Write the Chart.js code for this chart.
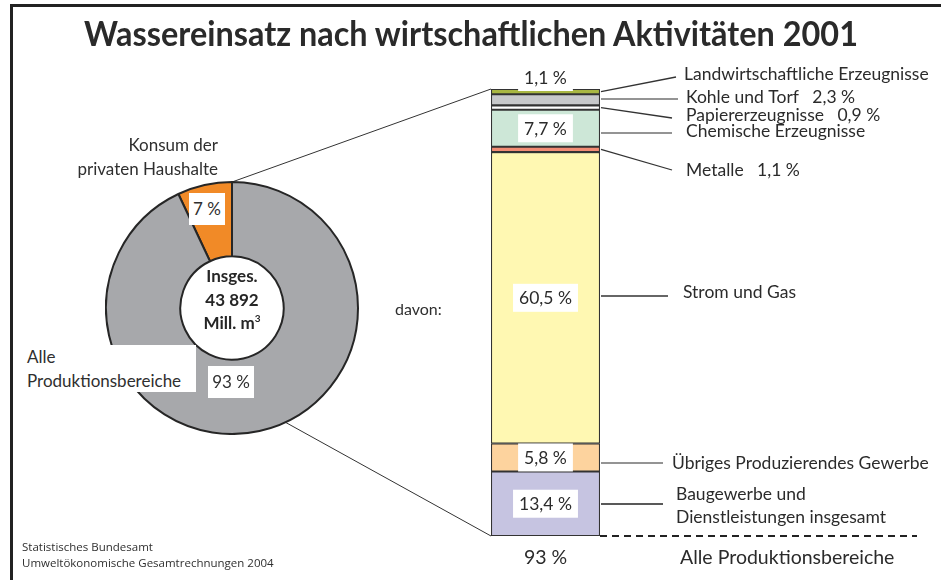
<!DOCTYPE html>
<html lang="de">
<head>
<meta charset="utf-8">
<title>Wassereinsatz nach wirtschaftlichen Aktivitäten 2001</title>
<script src="https://cdn.jsdelivr.net/npm/chart.js@4.4.1/dist/chart.umd.min.js"></script>
<style>
    html, body { margin: 0; padding: 0; background: #fff; }
    #page {
        position: relative;
        width: 941px;
        height: 580px;
        overflow: hidden;
        font-family: Lato, "Noto Sans", sans-serif;
        color: #2f2f2f;
    }
    #frame {
        position: absolute;
        left: 10px; top: 4px;
        width: 960px; height: 600px;
        border-left: 3px solid #222;
        border-top: 3px solid #222;
    }
    canvas { position: absolute; }
    #barChart { left: 0; top: 0; }
    #pieChart { left: 105px; top: 181px; }
    .txt { position: absolute; white-space: nowrap; font-size: 17px; }
    #title {
        left: 0; top: 12px; width: 941px; text-align: center;
        font-size: 34px; font-weight: 700; color: #2a2a2a;
    }
    #title span { display: inline-block; transform-origin: center; }
    .box { background: #fff; text-align: center; }
    #konsum { right: 723px; top: 133px; text-align: right; line-height: 24px; }
    #konsumPct { left: 189px; top: 193px; width: 36px; height: 32px; line-height: 32px; }
    #allePct { left: 208px; top: 366px; width: 46px; height: 32px; line-height: 32px; }
    #alle { left: 20px; top: 345px; width: 169px; height: 47px; padding-left: 7px;
            background: #fff; line-height: 24px; }
    #total { left: 172px; top: 264px; width: 120px; text-align: center;
             font-weight: 700; line-height: 23.5px; color: #262626; }
    #total sup { font-size: 10px; vertical-align: 7px; line-height: 0; }
    #davon { left: 395px; top: 299px; font-size: 16px; }
    #source { left: 22px; top: 539px; font-size: 11.5px; line-height: 16px;
              font-family: "Open Sans", sans-serif; }
</style>
</head>
<body>
<div id="page">
    <div id="frame"></div>
    <canvas id="barChart" width="941" height="580"></canvas>
    <canvas id="pieChart" width="254" height="254"></canvas>
    <div class="txt" id="title"><span>Wassereinsatz nach wirtschaftlichen Aktivitäten 2001</span></div>
    <div class="txt" id="konsum"></div>
    <div class="txt box" id="konsumPct"></div>
    <div class="txt" id="alle"></div>
    <div class="txt box" id="allePct"></div>
    <div class="txt" id="total"></div>
    <div class="txt" id="davon">davon:</div>
    <div class="txt" id="source">Statistisches Bundesamt<br>Umweltökonomische Gesamtrechnungen 2004</div>
</div>
<script>
// left ring: share of total water use
const pieLabels = ['Konsum der\nprivaten Haushalte', 'Alle\nProduktionsbereiche'];
const pieShares = [7, 93];
const pieColors = ['#f18a27', '#a7a8ab'];
const totalVolume = '43 892';

// right bar: split of "Alle Produktionsbereiche", top to bottom
const categories = [
    'Landwirtschaftliche Erzeugnisse',
    'Kohle und Torf',
    'Papiererzeugnisse',
    'Chemische Erzeugnisse',
    'Metalle',
    'Strom und Gas',
    'Übriges Produzierendes Gewerbe',
    'Baugewerbe und\nDienstleistungen insgesamt'
];
const shares = [1.1, 2.3, 0.9, 7.7, 1.1, 60.5, 5.8, 13.4];
const barColors = ['#a9b742', '#c7c8ca', '#ffffff', '#cde7d7', '#f28c74', '#fff8b2', '#fdd39e', '#c6c4e1'];
// where the share is printed: above the bar, inside it, or after the name
const valuePlace = ['above', 'name', 'name', 'inside', 'name', 'inside', 'inside', 'inside'];

// callout geometry (leader end point and text anchor) for each category
const callouts = [
    { end: [676, 77],  text: [684, 74] },
    { end: [678, 99],  text: [686, 97] },
    { end: [672, 118], text: [686, 115] },
    { end: [672, 133], text: [686, 131] },
    { end: [672, 170], text: [686, 170] },
    { end: [668, 296], text: [683, 292] },
    { end: [663, 463], text: [672, 463] },
    { end: [663, 504], text: [676, 494] }
];
const leaderColors = ['#333', '#707070', '#333', '#707070', '#333', '#333', '#707070', '#222'];

const fmt = v => v.toLocaleString('de-DE', { minimumFractionDigits: 1, maximumFractionDigits: 1 }) + ' %';
const TEXT = '#2b2b2b';
const FONT = '17.5px Lato';

function buildPie() {
    const rotation = -pieShares[0] * 3.6; // small slice ends exactly at 12 o'clock
    return new Chart(document.getElementById('pieChart'), {
        type: 'doughnut',
        data: {
            labels: pieLabels,
            datasets: [{
                data: pieShares,
                backgroundColor: pieColors,
                borderColor: '#262626',
                borderWidth: 2,
                borderAlign: 'center'
            }]
        },
        options: {
            responsive: false,
            animation: false,
            rotation: rotation,
            cutout: '41%',
            layout: { padding: 0 },
            plugins: { legend: { display: false }, tooltip: { enabled: false } }
        }
    });
}

function buildBar(pie) {
    const canvasPie = document.getElementById('pieChart');

    const calloutPlugin = {
        id: 'callouts',
        beforeDatasetsDraw(chart) {
            // zoom lines from the ring to the bar
            const ctx = chart.ctx;
            const arc = pie.getDatasetMeta(0).data[0];
            const ox = canvasPie.offsetLeft, oy = canvasPie.offsetTop;
            const r = arc.outerRadius;
            const first = chart.getDatasetMeta(0).data[0];
            const last = chart.getDatasetMeta(shares.length - 1).data[0];
            const left = first.x - first.width / 2;
            const top = Math.min(first.y, first.base);
            const bottom = Math.max(last.y, last.base);
            const a1 = arc.endAngle;
            const a2 = -Math.PI / 2 + 155 * Math.PI / 180;
            ctx.save();
            ctx.strokeStyle = '#333';
            ctx.lineWidth = 1;
            ctx.beginPath();
            ctx.moveTo(ox + arc.x + r * Math.cos(a1), oy + arc.y + r * Math.sin(a1));
            ctx.lineTo(left, top);
            ctx.moveTo(ox + arc.x + r * Math.cos(a2), oy + arc.y + r * Math.sin(a2));
            ctx.lineTo(left, bottom);
            ctx.stroke();
            ctx.restore();
        },
        afterDatasetsDraw(chart) {
            const ctx = chart.ctx;
            ctx.save();
            ctx.font = FONT;
            ctx.textBaseline = 'middle';
            shares.forEach((v, i) => {
                const bar = chart.getDatasetMeta(i).data[0];
                const segTop = Math.min(bar.y, bar.base);
                const segBot = Math.max(bar.y, bar.base);
                const right = bar.x + bar.width / 2;
                const c = callouts[i];

                // leader line
                let sy = (segTop + segBot) / 2;
                if (c.end[1] >= segTop && c.end[1] <= segBot) sy = c.end[1];
                ctx.strokeStyle = leaderColors[i];
                ctx.lineWidth = 1.3;
                ctx.beginPath();
                ctx.moveTo(right + 1, sy);
                ctx.lineTo(c.end[0], c.end[1]);
                ctx.stroke();

                // category name
                ctx.fillStyle = TEXT;
                ctx.textAlign = 'left';
                const lines = categories[i].split('\n');
                let name = lines[0];
                if (valuePlace[i] === 'name') name += '   ' + fmt(v);
                ctx.fillText(name, c.text[0], c.text[1]);
                if (lines[1]) ctx.fillText(lines[1], c.text[0], c.text[1] + 23);

                // value box
                if (valuePlace[i] === 'above' || valuePlace[i] === 'inside') {
                    const label = fmt(v);
                    const w = ctx.measureText(label).width + 12;
                    const cy = valuePlace[i] === 'above' ? segTop - 12 : (segTop + segBot) / 2;
                    ctx.fillStyle = '#fff';
                    ctx.fillRect(bar.x - w / 2, cy - 14, w, 28);
                    ctx.fillStyle = TEXT;
                    ctx.textAlign = 'center';
                    ctx.fillText(label, bar.x, cy + 1);
                }
            });

            // bottom: dashed base line and total
            const last = chart.getDatasetMeta(shares.length - 1).data[0];
            const bottom = Math.max(last.y, last.base);
            const right = last.x + last.width / 2;
            ctx.strokeStyle = '#222';
            ctx.lineWidth = 2;
            ctx.setLineDash([7, 5]);
            ctx.beginPath();
            ctx.moveTo(right, bottom);
            ctx.lineTo(917, bottom);
            ctx.stroke();
            ctx.setLineDash([]);
            ctx.font = '19.5px Lato';
            ctx.fillStyle = TEXT;
            ctx.textAlign = 'center';
            ctx.fillText(pieShares[1] + ' %', last.x, bottom + 22);
            ctx.textAlign = 'left';
            ctx.fillText(pieLabels[1].replace('\n', ' '), 680, bottom + 22);
            ctx.restore();
        }
    };

    const total = shares.reduce((a, b) => a + b, 0);
    return new Chart(document.getElementById('barChart'), {
        type: 'bar',
        data: {
            labels: [''],
            datasets: categories.map((name, i) => ({
                label: name,
                data: [shares[i]],
                backgroundColor: barColors[i],
                borderColor: '#333',
                borderWidth: 1.4,
                borderSkipped: false,
                barPercentage: 1,
                categoryPercentage: 1
            }))
        },
        options: {
            responsive: false,
            animation: false,
            layout: { padding: { left: 491, right: 341, top: 89, bottom: 44 } },
            scales: {
                x: { stacked: true, display: false },
                y: { stacked: true, display: false, reverse: true, min: 0, max: total }
            },
            plugins: { legend: { display: false }, tooltip: { enabled: false } }
        },
        plugins: [calloutPlugin]
    });
}

function fillTexts() {
    document.getElementById('konsum').innerHTML = pieLabels[0].replace('\n', '<br>');
    document.getElementById('alle').innerHTML = pieLabels[1].replace('\n', '<br>');
    document.getElementById('konsumPct').textContent = pieShares[0] + ' %';
    document.getElementById('allePct').textContent = pieShares[1] + ' %';
    document.getElementById('total').innerHTML = 'Insges.<br>' + totalVolume + '<br>Mill. m<sup>3</sup>';

    // squeeze the title to the width it has in the original
    const span = document.querySelector('#title span');
    const w = span.getBoundingClientRect().width;
    span.style.transform = 'scaleX(' + (774 / w) + ')';
}

document.addEventListener('DOMContentLoaded', () => {
    Promise.all([
        document.fonts.load('17px Lato'),
        document.fonts.load('bold 17px Lato'),
        document.fonts.load('12px "Open Sans"')
    ]).catch(() => {}).then(() => {
        fillTexts();
        const pie = buildPie();
        buildBar(pie);
    });
});
</script>
</body>
</html>
